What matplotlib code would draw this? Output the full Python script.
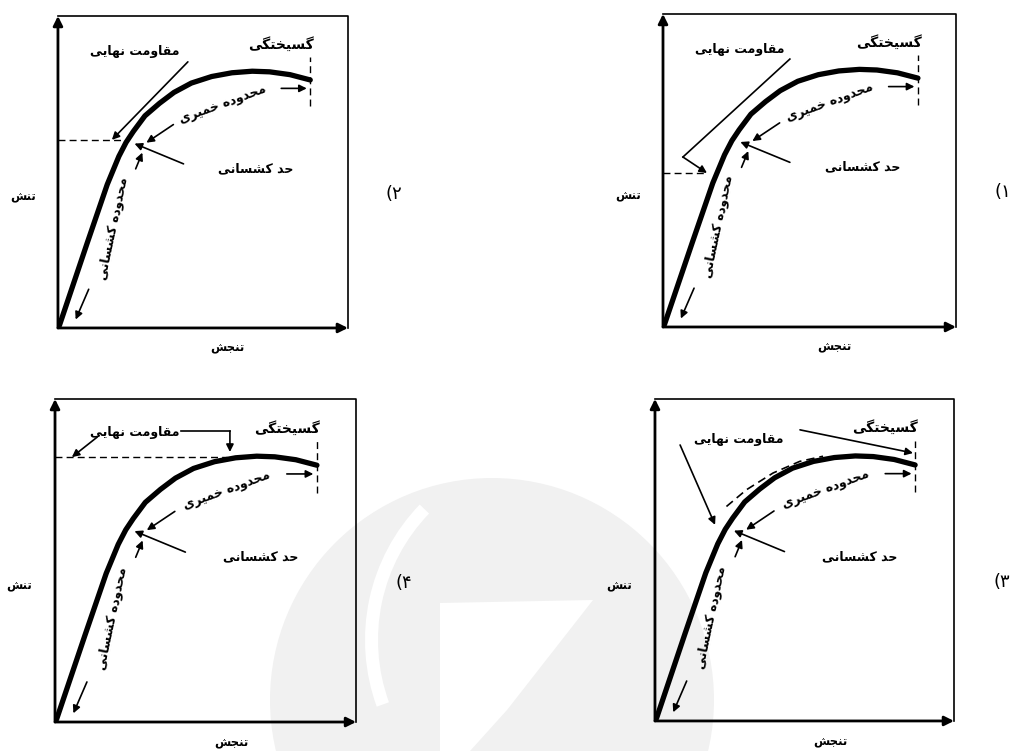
import matplotlib
matplotlib.use("Agg")
import matplotlib.pyplot as plt
from matplotlib import font_manager
from matplotlib.ft2font import FT2Font
from matplotlib.patches import Wedge, Circle, Polygon

# normalised stress-strain curve (same shape in the four panels)
strain = [0.005, 0.10, 0.17, 0.21, 0.235, 0.26, 0.30, 0.35, 0.40, 0.46,
          0.53, 0.60, 0.67, 0.73, 0.80, 0.87]
stress = [0.008, 0.27, 0.46, 0.55, 0.595, 0.63, 0.68, 0.72, 0.755, 0.785,
          0.806, 0.818, 0.823, 0.821, 0.812, 0.795]

# dashed curve above the plastic part (panel 3)
ult_strain = [0.239, 0.306, 0.395, 0.484, 0.562]
ult_stress = [0.666, 0.718, 0.770, 0.806, 0.822]

rupture_strain = 0.87
# stress level of the dashed "ultimate strength" line in panels 2, 1, 4
ult_level = {"۲": 0.603, "۱": 0.492, "۴": 0.82}

lbl_stress = "تنش"
lbl_strain = "تنجش"
lbl_ultimate = "مقاومت نهایی"
lbl_rupture = "گسیختگی"
lbl_plastic = "محدودۀ خمیری"
lbl_elastic_limit = "حد کشسانی"
lbl_elastic_range = "محدودۀ کشسانی"
panel_numbers = ["۲", "۱", "۴", "۳"]

# panel boxes in figure fraction: left, bottom, width, height
panel_boxes = {
    "۲": [0.0571, 0.5633, 0.2857, 0.4154],
    "۱": [0.6532, 0.5646, 0.2887, 0.4168],
    "۴": [0.0542, 0.0386, 0.2966, 0.4301],
    "۳": [0.6453, 0.0400, 0.2946, 0.4288],
}

# --- minimal Persian shaping (matplotlib does no Arabic joining) ---
FORMS = {
    # isolated, final, initial, medial
    "ا": [(0xFE8D, 0xFE8E, None, None)],
    "ب": [(0xFE8F, 0xFE90, 0xFE91, 0xFE92)],
    "ت": [(0xFE95, 0xFE96, 0xFE97, 0xFE98)],
    "ج": [(0xFE9D, 0xFE9E, 0xFE9F, 0xFEA0)],
    "ح": [(0xFEA1, 0xFEA2, 0xFEA3, 0xFEA4)],
    "خ": [(0xFEA5, 0xFEA6, 0xFEA7, 0xFEA8)],
    "د": [(0xFEA9, 0xFEAA, None, None)],
    "ر": [(0xFEAD, 0xFEAE, None, None)],
    "س": [(0xFEB1, 0xFEB2, 0xFEB3, 0xFEB4)],
    "ش": [(0xFEB5, 0xFEB6, 0xFEB7, 0xFEB8)],
    "ق": [(0xFED5, 0xFED6, 0xFED7, 0xFED8)],
    "ک": [(0xFB8E, 0xFB8F, 0xFB90, 0xFB91), (0xFED9, 0xFEDA, 0xFEDB, 0xFEDC)],
    "گ": [(0xFB92, 0xFB93, 0xFB94, 0xFB95), (0xFED9, 0xFEDA, 0xFEDB, 0xFEDC)],
    "ل": [(0xFEDD, 0xFEDE, 0xFEDF, 0xFEE0)],
    "م": [(0xFEE1, 0xFEE2, 0xFEE3, 0xFEE4)],
    "ن": [(0xFEE5, 0xFEE6, 0xFEE7, 0xFEE8)],
    "ه": [(0xFEE9, 0xFEEA, 0xFEEB, 0xFEEC)],
    "و": [(0xFEED, 0xFEEE, None, None)],
    "ی": [(0xFBFC, 0xFBFD, 0xFBFE, 0xFBFF), (0xFEEF, 0xFEF0, 0xFEF3, 0xFEF4)],
    "ۀ": [(0xFBA4, 0xFBA5, None, None), (0xFEE9, 0xFEEA, None, None)],
}


def font_file(weight):
    return font_manager.findfont(
        font_manager.FontProperties(family="DejaVu Sans", weight=weight))


def fa(text, weight="bold"):
    for w in [weight, "normal"]:
        font = FT2Font(font_file(w))
        out = []
        complete = True
        for i, ch in enumerate(text):
            if ch not in FORMS:
                out.append(ch)
                continue
            prev = text[i - 1] if i > 0 else ""
            nxt = text[i + 1] if i + 1 < len(text) else ""
            join_prev = prev in FORMS and FORMS[prev][0][2] is not None
            join_next = FORMS[ch][0][2] is not None and nxt in FORMS
            k = 3 if (join_prev and join_next) else 1 if join_prev else 2 if join_next else 0
            code = None
            for alt in FORMS[ch]:
                if alt[k] is not None and font.get_char_index(alt[k]):
                    code = alt[k]
                    break
            if code is None:
                complete = False
                code = ord(ch)
            out.append(chr(code))
        if complete or w == "normal":
            return "".join(reversed(out)), w


def digit(d):
    font = FT2Font(font_file("normal"))
    if font.get_char_index(ord(d)):
        return d
    return chr(ord(d) - 0x06F0 + 0x0660)


def ftext(ax, x, y, s, size=9, weight="bold", **kw):
    t, w = fa(s, weight)
    ax.text(x, y, t, fontsize=size, fontweight=w, family="DejaVu Sans",
            ha=kw.pop("ha", "center"), va=kw.pop("va", "center"), clip_on=False, **kw)


def arrow(ax, start, end, lw=1.2, ms=11):
    ax.annotate("", xy=end, xytext=start, annotation_clip=False,
                arrowprops=dict(arrowstyle="-|>", color="k", lw=lw, mutation_scale=ms,
                                shrinkA=0, shrinkB=0))


fig = plt.figure(figsize=(10.15, 7.51), dpi=100)

# faint logo watermark behind everything (pixel coordinates)
bg = fig.add_axes([0, 0, 1, 1], zorder=-1)
bg.set_xlim(0, 1015)
bg.set_ylim(751, 0)
bg.axis("off")
wm = "#f1f1f1"
bg.add_patch(Circle((492, 700), 222, color=wm, lw=0))
bg.add_patch(Wedge((560, 640), 195, 160, 224, width=13, color="white", lw=0))
bg.add_patch(Polygon([(440, 603), (593, 600), (507, 710), (470, 751), (440, 751)],
                     closed=True, color="white", lw=0))

for num in panel_numbers:
    ax = fig.add_axes(panel_boxes[num])
    ax.set_xlim(0, 1)
    ax.set_ylim(0, 1)
    ax.axis("off")

    # frame: thin top/right, axes with arrow heads
    ax.plot([0, 1, 1], [1, 1, 0], color="k", lw=1.2, clip_on=False)
    arrow(ax, (0, 0), (0, 1), lw=2, ms=14)
    arrow(ax, (0, 0), (1, 0), lw=2, ms=14)

    ax.plot(strain, stress, color="k", lw=3.8, solid_capstyle="round",
            solid_joinstyle="round", zorder=3)

    # rupture
    ax.plot([rupture_strain, rupture_strain], [0.71, 0.87], color="k", lw=1, ls=(0, (5, 3)))
    ftext(ax, 0.77, 0.91, lbl_rupture, size=10)
    arrow(ax, (0.77, 0.768), (0.858, 0.768))

    # plastic range
    ftext(ax, 0.57, 0.718, lbl_plastic, rotation=20, rotation_mode="anchor")
    arrow(ax, (0.398, 0.652), (0.305, 0.594))

    # elastic limit
    ftext(ax, 0.683, 0.51, lbl_elastic_limit)
    arrow(ax, (0.433, 0.526), (0.264, 0.591))
    arrow(ax, (0.268, 0.51), (0.291, 0.562))

    # elastic range
    ftext(ax, 0.19, 0.32, lbl_elastic_range, rotation=78, rotation_mode="anchor")
    arrow(ax, (0.106, 0.124), (0.061, 0.027))

    # ultimate strength, drawn differently in each panel
    if num == "۲":
        ftext(ax, 0.266, 0.885, lbl_ultimate)
        ax.plot([0, 0.224], [ult_level[num]] * 2, color="k", lw=1, ls=(0, (5, 3)))
        arrow(ax, (0.448, 0.853), (0.186, ult_level[num]))
    elif num == "۱":
        ftext(ax, 0.263, 0.885, lbl_ultimate)
        ax.plot([0, 0.15], [ult_level[num]] * 2, color="k", lw=1, ls=(0, (5, 3)))
        ax.plot([0.433, 0.068], [0.856, 0.543], color="k", lw=1.2)
        arrow(ax, (0.068, 0.543), (0.15, ult_level[num]))
    elif num == "۴":
        ftext(ax, 0.266, 0.895, lbl_ultimate)
        ax.plot([0, 0.57], [ult_level[num]] * 2, color="k", lw=1, ls=(0, (5, 3)))
        ax.plot([0.42, 0.581], [0.901, 0.901], color="k", lw=1.2)
        arrow(ax, (0.581, 0.901), (0.581, ult_level[num] + 0.016))
        arrow(ax, (0.14, 0.882), (0.056, ult_level[num]))
    else:
        ftext(ax, 0.281, 0.873, lbl_ultimate)
        ax.plot(ult_strain, ult_stress, color="k", lw=1.2, ls=(0, (5, 3)))
        arrow(ax, (0.485, 0.904), (0.863, 0.832))
        arrow(ax, (0.084, 0.857), (0.201, 0.609))

    # axis labels and panel number
    ftext(ax, -0.119, 0.42, lbl_stress, size=8.5)
    ftext(ax, 0.585, -0.064, lbl_strain, size=8.5)
    ax.text(1.16, 0.43, "(" + digit(num), fontsize=13, family="DejaVu Sans",
            ha="center", va="center", clip_on=False)

fig.savefig("out.png", dpi=100)
